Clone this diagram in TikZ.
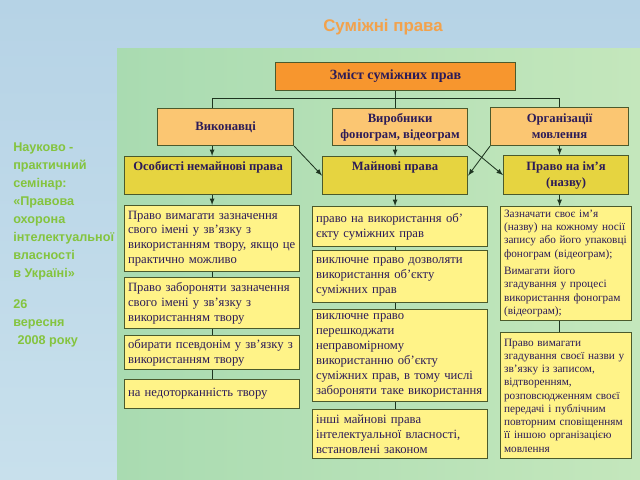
\documentclass[tikz,border=0pt]{standalone}
\usepackage{fontspec}
\setmainfont{Liberation Serif}
\setsansfont{Liberation Sans}
\usepackage{xcolor}
\usepackage{tikz}
\usetikzlibrary{arrows,positioning,calc}
\definecolor{bgblue}{HTML}{B6D3E6}
\definecolor{bgblue2}{HTML}{C8E0EC}
\definecolor{panelgreen}{HTML}{A9DBB1}
\definecolor{panelgreen2}{HTML}{C4E7BC}
\definecolor{titleorange}{HTML}{F2A24C}
\definecolor{sidegreen}{HTML}{84C43E}
\definecolor{topfill}{HTML}{F7962E}
\definecolor{groupfill}{HTML}{FBC672}
\definecolor{rightfill}{HTML}{E6D440}
\definecolor{itemfill}{HTML}{FFF388}
\definecolor{edge}{HTML}{4B5A2C}
\definecolor{ink}{HTML}{2C1B58}
\definecolor{linecol}{HTML}{1E3520}

\begin{document}
\begin{tikzpicture}[x=0.025cm,y=-0.025cm,>=latex,
  hbox/.style={draw=edge,line width=0.8pt,anchor=north west,align=center,text=ink,inner sep=1pt,
    font=\fontsize{9}{11.5}\selectfont\bfseries},
  item/.style={draw=edge,line width=0.8pt,fill=itemfill,anchor=north west,align=left,text=ink,inner sep=2.5pt,
    font=\fontsize{9}{10.6}\selectfont},
  small/.style={font=\fontsize{8}{9.4}\selectfont},
  link/.style={draw=linecol,line width=0.6pt}]
\useasboundingbox (0,0) rectangle (640,480);
\fill[top color=bgblue,bottom color=bgblue2] (0,0) rectangle (640,480);
\shade[left color=panelgreen,right color=panelgreen2] (117,48) rectangle (640,480);

\node[text=titleorange,font=\fontsize{12}{14}\selectfont\sffamily\bfseries] (title) at (383,27) {Суміжні права};
\node[anchor=north west,align=left,inner sep=0pt,text=sidegreen,font=\fontsize{9}{12.7}\selectfont\sffamily\bfseries]
  (seminar) at (13,143) {Науково -\\практичний\\семінар:\\«Правова\\охорона\\інтелектуальної\\власності\\в Україні»\\[10pt]
  26\\вересня\\\hspace{3pt}2008 року};

\node[hbox,fill=topfill,minimum width=6cm,minimum height=0.7cm,font=\fontsize{10}{12}\selectfont\bfseries] (zmist) at (275,62) {Зміст суміжних прав};

\node[hbox,fill=groupfill,minimum width=3.4cm,minimum height=0.925cm] (vykon) at (157,108) {Виконавці};
\node[hbox,fill=groupfill,minimum width=3.375cm,minimum height=0.925cm] (vyrob) at (332,108) {Виробники\\фонограм, відеограм};
\node[hbox,fill=groupfill,minimum width=3.45cm,minimum height=0.95cm] (orgmov) at (490,107) {Організації\\мовлення};

\node[hbox,fill=rightfill,minimum width=4.175cm,minimum height=0.95cm,text depth=14pt] (osob) at (124,156) {Особисті немайнові права};
\node[hbox,fill=rightfill,minimum width=3.625cm,minimum height=0.95cm,text depth=14pt] (mayn) at (322,156) {Майнові права};
\node[hbox,fill=rightfill,minimum width=3.125cm,minimum height=0.975cm] (imya) at (503,155) {Право на ім’я\\(назву)};

\node[item,text width=4.2cm,minimum height=1.65cm] (c1a) at (124,205) {Право вимагати зазначення\\свого імені у зв’язку з\\використанням твору, якщо це\\практично можливо};
\node[item,text width=4.2cm,minimum height=1.275cm] (c1b) at (124,277) {Право забороняти зазначення\\свого імені у зв’язку з\\використанням твору};
\node[item,text width=4.2cm,minimum height=0.85cm] (c1c) at (124,335) {обирати псевдонім у зв’язку з\\використанням твору};
\node[item,text width=4.2cm,minimum height=0.725cm] (c1d) at (124,379) {на недоторканність твору};

\node[item,text width=4.2cm,minimum height=1cm] (c2a) at (312,206) {право на використання об’\\єкту суміжних прав};
\node[item,text width=4.2cm,minimum height=1.3cm] (c2b) at (312,250) {виключне право дозволяти\\використання об’єкту\\суміжних прав};
\node[item,text width=4.2cm,minimum height=2.3cm] (c2c) at (312,309) {виключне право\\перешкоджати\\неправомірному\\використанню об’єкту\\суміжних прав, в тому числі\\забороняти таке використання};
\node[item,text width=4.2cm,minimum height=1.225cm] (c2d) at (312,409) {інші майнові права\\інтелектуальної власності,\\встановлені законом};

\node[item,small,text width=3.1cm,minimum height=2.825cm] (c3a) at (500,206) {Зазначати своє ім’я\\(назву) на кожному носії\\запису або його упаковці\\фонограм (відеограм);\\[3pt]Вимагати його\\згадування у процесі\\використання фонограм\\(відеограм);};
\node[item,small,text width=3.1cm,minimum height=3.15cm] (c3b) at (500,332) {Право вимагати\\згадування своєї назви у\\зв’язку із записом,\\відтворенням,\\розповсюдженням своєї\\передачі і публічним\\повторним сповіщенням\\її іншою організацією\\мовлення};

\draw[link] (zmist.south) -- ++(0,7) coordinate (bus);
\draw[link] (c1a.north |- vykon.north) |- (bus) -| (orgmov.north);
\draw[link] (bus) -- (bus |- vyrob.north);

\draw[link,->] (vykon.south -| c1a.north) -- (osob.north -| c1a.north);
\draw[link,->] (vyrob.south -| mayn.north) -- (mayn.north);
\draw[link,->] (orgmov.south) -- (orgmov.south |- imya.north);
\draw[link,->] (vykon.south east) -- (mayn.west);
\draw[link,->] (vyrob.south east) -- (imya.west);
\draw[link,->] (orgmov.south west) -- (mayn.east);

\draw[link,->] (osob.south -| c1a.north) -- (c1a.north);
\draw[link,->] (mayn.south) -- (mayn.south |- c2a.north);
\draw[link,->] (imya.south -| orgmov.south) -- (orgmov.south |- c3a.north);
\foreach \a/\b/\r in {c1a/c1b/c1a,c1b/c1c/c1a,c1c/c1d/c1a,c2a/c2b/mayn,c2b/c2c/mayn,c2c/c2d/mayn,c3a/c3b/orgmov}
  \draw[link] (\a.south -| \r.south) -- (\b.north -| \r.south);
\end{tikzpicture}
\end{document}
